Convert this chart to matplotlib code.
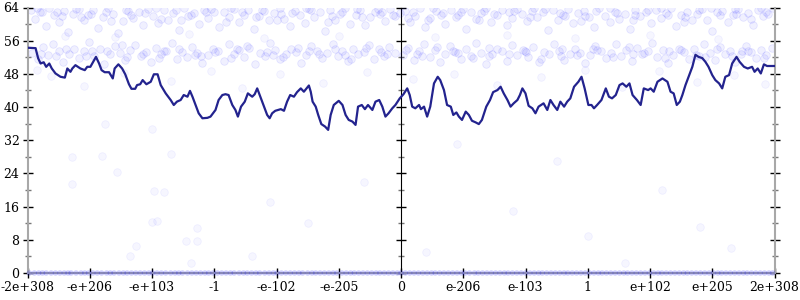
import matplotlib
matplotlib.use("Agg")
import matplotlib.pyplot as plt
from matplotlib.ticker import MultipleLocator, FixedLocator, NullFormatter

plt.rcParams['font.family'] = ['DejaVu Serif']

# x axis: tick positions in index units, labels as in the reference
TICK_POS = [-6, -5, -4, -3, -2, -1, 0, 1, 2, 3, 4, 5, 6]
TICK_LABELS = ["-2e+308", "-e+206", "-e+103", "-1", "-e-102", "-e-205", "0",
               "e-206", "e-103", "1", "e+102", "e+205", "2e+308"]

# smoothed curve
LINE_X = [-6.0, -5.87, -5.83, -5.79, -5.74, -5.70, -5.65, -5.61, -5.55, -5.47,
          -5.40, -5.36, -5.31, -5.28, -5.23, -5.15, -5.08, -5.04, -4.99, -4.93,
          -4.90, -4.85, -4.81, -4.76, -4.69, -4.63, -4.60, -4.54, -4.48, -4.43,
          -4.37, -4.33, -4.27, -4.24, -4.19, -4.15, -4.09, -4.02, -3.97, -3.91,
          -3.86, -3.78, -3.70, -3.65, -3.60, -3.54, -3.49, -3.43, -3.39, -3.35,
          -3.30, -3.25, -3.19, -3.11, -3.06, -2.98, -2.93, -2.87, -2.82, -2.77,
          -2.71, -2.66, -2.62, -2.57, -2.51, -2.46, -2.39, -2.35, -2.31, -2.27,
          -2.20, -2.15, -2.11, -2.07, -2.02, -1.93, -1.88, -1.83, -1.78, -1.72,
          -1.67, -1.61, -1.56, -1.48, -1.45, -1.42, -1.37, -1.33, -1.28, -1.22,
          -1.17, -1.13, -1.08, -1.00, -0.94, -0.89, -0.84, -0.78, -0.73, -0.69,
          -0.63, -0.58, -0.53, -0.46, -0.41, -0.35, -0.30, -0.25, -0.20, -0.14,
          -0.09, -0.02, 0.04, 0.10, 0.14, 0.18, 0.23, 0.29, 0.32, 0.37,
          0.42, 0.47, 0.53, 0.59, 0.63, 0.69, 0.74, 0.80, 0.84, 0.89,
          0.93, 0.98, 1.04, 1.09, 1.14, 1.20, 1.25, 1.30, 1.37, 1.43,
          1.48, 1.55, 1.60, 1.65, 1.71, 1.76, 1.81, 1.87, 1.91, 1.95,
          2.00, 2.05, 2.11, 2.16, 2.21, 2.29, 2.35, 2.40, 2.45, 2.51,
          2.56, 2.62, 2.67, 2.72, 2.78, 2.85, 2.90, 2.95, 3.01, 3.06,
          3.10, 3.15, 3.22, 3.29, 3.34, 3.39, 3.45, 3.51, 3.56, 3.62,
          3.67, 3.72, 3.79, 3.85, 3.90, 3.97, 4.01, 4.06, 4.12, 4.20,
          4.28, 4.33, 4.38, 4.43, 4.48, 4.52, 4.57, 4.62, 4.68, 4.73,
          4.78, 4.84, 4.89, 4.94, 5.00, 5.05, 5.11, 5.16, 5.21, 5.27,
          5.32, 5.39, 5.44, 5.51, 5.57, 5.64, 5.68, 5.73, 5.78, 5.83,
          5.88, 5.95, 6.0]
LINE_Y = [54.3, 54.2, 51.8, 50.5, 50.8, 49.7, 50.5, 49.3, 48.1, 47.3,
          47.1, 49.3, 48.5, 49.3, 50.1, 49.3, 48.9, 49.7, 49.7, 51.3,
          52.1, 50.5, 48.9, 48.4, 48.4, 46.9, 49.3, 50.3, 49.3, 47.9,
          45.5, 44.4, 44.4, 45.3, 45.5, 46.5, 45.5, 46.1, 47.9, 47.9,
          45.3, 43.3, 41.7, 40.5, 41.3, 41.7, 42.9, 42.5, 43.9, 42.5,
          40.5, 38.5, 37.3, 37.4, 37.7, 39.3, 41.7, 42.9, 43.1, 42.9,
          40.5, 39.3, 37.7, 40.1, 41.3, 43.3, 42.5, 43.1, 44.5, 42.9,
          40.1, 38.1, 37.3, 38.5, 39.1, 39.5, 39.1, 41.3, 42.9, 42.5,
          43.6, 44.5, 43.7, 45.2, 43.7, 41.3, 40.1, 38.1, 35.9, 35.3,
          34.5, 38.1, 40.5, 41.5, 40.5, 38.1, 36.9, 36.5, 35.7, 40.1,
          40.5, 39.5, 40.5, 39.3, 41.3, 41.7, 40.1, 37.7, 38.5, 39.7,
          40.5, 42.1, 43.1, 44.5, 42.9, 40.1, 39.7, 40.5, 39.5, 40.1,
          37.7, 40.1, 45.7, 47.3, 46.5, 44.1, 40.5, 40.1, 38.1, 38.7,
          37.7, 36.9, 38.9, 38.1, 36.7, 36.3, 35.9, 36.9, 40.1, 41.7,
          43.6, 44.1, 44.9, 43.3, 41.7, 40.1, 40.9, 41.7, 42.9, 44.5,
          43.3, 40.3, 39.7, 38.5, 40.1, 40.9, 39.3, 41.7, 40.5, 39.3,
          41.3, 40.1, 41.3, 42.1, 44.9, 46.1, 47.3, 44.5, 40.5, 40.5,
          39.7, 40.5, 41.7, 44.5, 42.5, 42.1, 42.9, 45.3, 45.7, 44.9,
          45.7, 42.9, 41.7, 40.5, 44.5, 44.1, 44.5, 43.7, 46.1, 46.9,
          46.1, 43.7, 43.3, 40.5, 41.3, 42.9, 45.3, 47.3, 49.7, 52.6,
          52.1, 51.8, 50.9, 49.7, 47.7, 46.5, 45.7, 44.5, 47.3, 47.7,
          50.5, 52.1, 50.9, 49.7, 49.3, 49.7, 48.5, 49.3, 48.1, 50.3,
          49.9, 49.9, 49.9]

# raw samples: upper cloud
UPPER_X = [-5.95, -5.88, -5.80, -5.71, -5.66, -5.58, -5.49, -5.41, -5.35, -5.27,
           -5.18, -5.10, -5.03, -4.94, -4.86, -4.79, -4.70, -4.62, -4.55, -4.47,
           -4.38, -4.30, -4.21, -4.15, -4.06, -3.98, -3.90, -3.81, -3.74, -3.66,
           -3.57, -3.49, -3.42, -3.33, -3.25, -3.17, -3.10, -3.01, -2.93, -2.85,
           -2.77, -2.69, -2.60, -2.52, -2.45, -2.36, -2.28, -2.20, -2.12, -2.04,
           -1.95, -1.88, -1.79, -1.71, -1.63, -1.55, -1.47, -1.39, -1.30, -1.22,
           -1.14, -1.06, -0.98, -0.90, -0.82, -0.73, -0.66, -0.58, -0.49, -0.41,
           -0.33, -0.25, -0.17, -0.09, -0.02, 0.07, 0.15, 0.23, 0.31, 0.39,
           0.47, 0.56, 0.64, 0.71, 0.80, 0.88, 0.96, 1.04, 1.13, 1.21,
           1.29, 1.37, 1.45, 1.54, 1.62, 1.70, 1.78, 1.86, 1.95, 2.03,
           2.11, 2.19, 2.28, 2.36, 2.44, 2.52, 2.61, 2.69, 2.77, 2.85,
           2.94, 3.02, 3.10, 3.18, 3.27, 3.35, 3.43, 3.51, 3.60, 3.68,
           3.76, 3.84, 3.93, 4.01, 4.09, 4.17, 4.26, 4.34, 4.42, 4.50,
           4.59, 4.67, 4.75, 4.83, 4.92, 5.00, 5.08, 5.16, 5.25, 5.33,
           5.41, 5.49, 5.58, 5.66, 5.74, 5.82, 5.90, 5.97,
           -5.84, -5.52, -5.14, -4.74, -4.33, -3.94, -3.53, -3.13, -2.73, -2.33,
           -1.92, -1.52, -1.11, -0.70, -0.30, 0.11, 0.52, 0.92, 1.33, 1.73,
           2.14, 2.55, 2.95, 3.36, 3.76, 4.17, 4.57, 4.98, 5.38, 5.78,
           -5.76, -5.45, -5.22, -4.98, -4.66, -4.42, -4.12, -3.86, -3.61, -3.37,
           -3.05, -2.81, -2.56, -2.24, -2.00, -1.75, -1.44, -1.18, -0.94, -0.62,
           -0.37, -0.13, 0.19, 0.43, 0.68, 0.99, 1.25, 1.49, 1.81, 2.07,
           2.32, 2.64, 2.89, 3.14, 3.47, 3.72, 3.97, 4.29, 4.54, 4.79,
           5.12, 5.36, 5.62, 5.86]
UPPER_Y = [63.5, 61.2, 62.8, 59.6, 63.8, 62.1, 60.4, 63.1, 58.2, 62.5,
           63.7, 60.9, 62.2, 63.4, 59.1, 61.8, 63.9, 62.4, 57.9, 60.7,
           63.2, 61.5, 62.9, 59.8, 63.6, 62.0, 60.2, 63.3, 61.0, 62.7,
           58.6, 63.8, 61.9, 62.6, 60.0, 63.4, 61.4, 62.8, 59.3, 63.0,
           61.7, 63.7, 60.6, 62.3, 63.5, 58.8, 62.0, 63.1, 60.9, 62.6,
           63.8, 61.3, 59.5, 63.2, 62.1, 60.3, 63.6, 61.8, 62.9, 58.4,
           63.3, 61.1, 62.5, 63.9, 60.1, 62.2, 63.4, 59.7, 61.6, 63.0,
           62.4, 60.8, 63.7, 61.9, 62.7, 63.2, 60.5, 62.0, 63.8, 59.2,
           61.4, 63.1, 62.3, 60.0, 63.5, 61.7, 62.8, 58.7, 63.0, 61.2,
           62.6, 63.9, 60.4, 62.1, 63.3, 59.9, 61.5, 63.6, 62.4, 60.7,
           63.1, 61.8, 62.9, 58.5, 63.4, 61.0, 62.2, 63.7, 60.2, 62.7,
           63.2, 61.6, 59.4, 63.8, 62.0, 60.6, 63.0, 61.3, 62.5, 58.9,
           63.5, 61.9, 62.8, 60.3, 63.3, 61.4, 62.6, 63.9, 59.6, 62.1,
           63.0, 60.9, 62.4, 63.6, 61.1, 58.3, 62.9, 63.2, 60.5, 62.2,
           63.7, 61.6, 62.7, 59.8, 63.4, 61.9, 62.5, 63.8,
           63.9, 62.9, 61.7, 63.0, 62.2, 63.8, 60.9, 62.9, 63.9, 61.6,
           62.4, 63.9, 62.0, 63.7, 62.9, 61.5, 63.9, 62.2, 63.1, 62.9,
           63.9, 62.6, 61.9, 63.9, 62.3, 63.8, 61.8, 63.9, 62.4, 63.9,
           63.0, 61.9, 63.6, 62.5, 60.8, 63.5, 62.7, 61.2, 63.4, 62.1,
           63.6, 60.4, 62.8, 63.3, 61.0, 62.6, 63.5, 60.6, 62.9, 61.8,
           63.6, 62.3, 63.0, 61.1, 62.7, 63.6, 60.9, 62.4, 63.2, 61.6,
           63.6, 62.0, 60.7, 63.1, 62.6, 61.0, 63.5, 62.2, 60.6, 63.3,
           62.1, 63.6, 61.3, 62.8]

# raw samples: middle cloud
MIDDLE_X = [-5.92, -5.83, -5.75, -5.67, -5.59, -5.50, -5.43, -5.34, -5.26, -5.18,
            -5.09, -5.01, -4.93, -4.84, -4.77, -4.68, -4.60, -4.51, -4.44, -4.35,
            -4.27, -4.18, -4.10, -4.02, -3.93, -3.85, -3.77, -3.68, -3.60, -3.52,
            -3.43, -3.35, -3.27, -3.19, -3.10, -3.02, -2.94, -2.85, -2.77, -2.69,
            -2.60, -2.52, -2.44, -2.35, -2.27, -2.19, -2.10, -2.02, -1.94, -1.85,
            -1.77, -1.69, -1.60, -1.52, -1.44, -1.35, -1.27, -1.19, -1.10, -1.02,
            -0.94, -0.85, -0.77, -0.69, -0.60, -0.52, -0.44, -0.35, -0.27, -0.19,
            -0.10, 0.04, 0.12, 0.21, 0.29, 0.37, 0.46, 0.54, 0.62, 0.71,
            0.79, 0.87, 0.96, 1.04, 1.12, 1.21, 1.29, 1.37, 1.46, 1.54,
            1.62, 1.71, 1.79, 1.87, 1.96, 2.04, 2.12, 2.21, 2.29, 2.37,
            2.46, 2.54, 2.62, 2.71, 2.79, 2.87, 2.96, 3.04, 3.12, 3.21,
            3.29, 3.37, 3.46, 3.54, 3.62, 3.71, 3.79, 3.87, 3.96, 4.04,
            4.12, 4.21, 4.29, 4.37, 4.46, 4.54, 4.62, 4.71, 4.79, 4.87,
            4.96, 5.04, 5.12, 5.21, 5.29, 5.37, 5.46, 5.54, 5.62, 5.71,
            5.79, 5.87, 5.96,
            -5.55, -4.97, -4.40, -3.80, -3.22, -2.64, -2.06, -1.48, -0.90, -0.32,
            0.25, 0.83, 1.41, 1.99, 2.57, 3.15, 3.73, 4.31, 4.89, 5.47,
            -5.79, -5.38, -5.06, -4.72, -4.48, -4.14, -3.89, -3.56, -3.31, -2.98,
            -2.73, -2.48, -2.15, -1.90, -1.65, -1.32, -1.06, -0.81, -0.56, -0.23,
            0.08, 0.33, 0.58, 0.91, 1.16, 1.42, 1.74, 2.00, 2.25, 2.58,
            2.83, 3.08, 3.41, 3.66, 3.91, 4.24, 4.49, 4.74, 5.07, 5.32,
            5.58, 5.83]
MIDDLE_Y = [53.1, 51.6, 54.4, 52.5, 55.2, 53.6, 50.8, 52.9, 54.1, 51.9,
            53.4, 55.6, 52.2, 53.9, 50.3, 52.7, 54.6, 53.0, 51.4, 53.7,
            55.0, 52.4, 53.2, 50.9, 54.2, 52.8, 53.6, 55.4, 51.7, 53.3,
            52.1, 54.5, 53.0, 50.6, 52.6, 54.0, 53.5, 51.2, 55.1, 52.9,
            53.8, 52.0, 54.3, 50.4, 53.1, 52.4, 55.5, 53.7, 51.5, 52.8,
            54.1, 53.2, 50.7, 52.5, 54.8, 53.4, 51.8, 53.0, 55.3, 52.2,
            53.6, 51.0, 54.0, 52.7, 53.3, 55.0, 51.6, 53.9, 52.3, 54.4,
            53.0, 52.6, 54.2, 51.3, 53.5, 55.2, 52.0, 53.7, 50.8, 52.9,
            54.6, 53.2, 51.7, 53.9, 52.4, 55.4, 53.1, 50.5, 52.8, 54.0,
            53.4, 51.1, 55.0, 52.6, 53.8, 52.1, 54.5, 50.9, 53.3, 52.7,
            55.3, 53.6, 51.4, 52.9, 54.1, 53.0, 50.6, 52.5, 54.7, 53.4,
            51.9, 53.1, 55.1, 52.3, 53.8, 51.2, 54.3, 52.8, 53.5, 55.5,
            52.0, 53.7, 50.7, 52.6, 54.0, 53.2, 51.6, 53.9, 52.4, 55.2,
            53.0, 51.3, 54.4, 52.7, 53.6, 50.8, 52.9, 54.8, 53.3, 51.8,
            53.8, 52.5, 54.2,
            52.2, 53.5, 52.0, 53.4, 52.3, 53.9, 52.6, 53.6, 52.5, 53.2,
            52.8, 53.6, 52.2, 53.5, 52.4, 53.7, 52.9, 53.5, 52.1, 53.4,
            52.8, 54.0, 52.4, 53.6, 55.0, 52.9, 51.8, 54.1, 52.6, 53.2,
            51.9, 54.6, 53.3, 52.1, 54.2, 52.8, 53.9, 51.7, 54.3, 52.9,
            53.8, 52.3, 54.5, 53.0, 51.9, 54.2, 52.7, 53.3, 51.6, 54.0,
            52.6, 53.9, 52.1, 54.4, 53.1, 51.8, 53.7, 52.5, 54.1, 52.4,
            53.6, 51.9]

# raw samples: scattered between the clouds and below
LOOSE_X = [-5.29, -4.80, -4.56, -5.29, -3.97, -3.81, -4.00, -3.92, -4.25, -4.35,
           -3.46, -3.27, -3.27, -3.38, -4.00, -4.75, -3.69, -1.50, -0.60, -2.40,
           0.40, 0.90, 1.80, 2.50, 3.00, 3.60, 4.20, 4.80, 5.30, -2.10,
           -5.62, -5.10, -4.45, -3.70, -3.05, -2.55, -1.95, -1.25, -0.55, 0.20,
           0.85, 1.55, 2.25, 2.95, 3.55, 4.15, 4.75, 5.35, 5.85, -5.85,
           -5.40, -4.60, -3.40, -2.20, -1.00, 0.55, 1.70, 2.80, 4.00, 5.10]
LOOSE_Y = [28.0, 28.2, 24.3, 21.4, 19.8, 19.6, 12.4, 12.6, 6.6, 4.0,
           7.6, 7.7, 10.8, 2.5, 34.6, 35.9, 28.6, 12.0, 22.0, 4.0,
           5.0, 31.0, 15.0, 27.0, 9.0, 2.5, 20.0, 11.0, 6.0, 17.0,
           47.5, 45.0, 48.2, 46.3, 48.8, 44.6, 47.9, 45.8, 48.5, 46.7,
           48.0, 45.3, 47.2, 49.0, 44.9, 48.6, 46.0, 47.7, 45.5, 48.9,
           57.2, 56.8, 57.5, 56.6, 57.1, 56.9, 57.4, 56.7, 57.3, 56.5]

# raw samples sitting at zero
ZERO_X = [-5.97, -5.89, -5.82, -5.76, -5.70, -5.62, -5.55, -5.48, -5.41, -5.35,
          -5.30, -5.22, -5.14, -5.08, -5.02, -4.95, -4.88, -4.81, -4.73, -4.67,
          -4.61, -4.53, -4.46, -4.40, -4.33, -4.26, -4.19, -4.12, -4.05, -3.99,
          -3.92, -3.85, -3.78, -3.70, -3.63, -3.57, -3.51, -3.43, -3.36, -3.29,
          -3.22, -3.15, -3.09, -3.02, -2.95, -2.88, -2.81, -2.74, -2.68, -2.60,
          -2.53, -2.47, -2.40, -2.33, -2.27, -2.19, -2.12, -2.05, -1.99, -1.92,
          -1.85, -1.78, -1.71, -1.64, -1.58, -1.50, -1.43, -1.37, -1.30, -1.23,
          -1.16, -1.09, -1.03, -0.95, -0.88, -0.81, -0.75, -0.68, -0.61, -0.54,
          -0.47, -0.40, -0.34, -0.27, -0.20, -0.13, -0.06, 0.00, 0.07, 0.14,
          0.21, 0.28, 0.35, 0.42, 0.49, 0.55, 0.62, 0.69, 0.76, 0.83,
          0.90, 0.97, 1.03, 1.10, 1.18, 1.24, 1.31, 1.38, 1.45, 1.52,
          1.59, 1.66, 1.72, 1.79, 1.86, 1.93, 2.00, 2.07, 2.14, 2.21,
          2.27, 2.34, 2.41, 2.48, 2.55, 2.62, 2.68, 2.75, 2.82, 2.89,
          2.96, 3.03, 3.10, 3.17, 3.23, 3.30, 3.37, 3.44, 3.51, 3.58,
          3.64, 3.71, 3.78, 3.85, 3.92, 3.99, 4.06, 4.13, 4.19, 4.26,
          4.33, 4.40, 4.47, 4.54, 4.60, 4.67, 4.74, 4.81, 4.88, 4.95,
          5.02, 5.09, 5.15, 5.22, 5.29, 5.36, 5.43, 5.50, 5.56, 5.63,
          5.70, 5.77, 5.84, 5.91, 5.97]

C_LINE = "#23238e"
C_AXIS = "#a8a8a8"


def main():
    fig = plt.figure(figsize=(8, 3), dpi=100)
    ax = fig.add_axes([27.5 / 800, 27 / 300, 747 / 800, 265.5 / 300])

    cloud = dict(s=30, facecolor=(0, 0, 1, 0.06), edgecolor=(0, 0, 1, 0.09),
                 linewidths=0.6, zorder=1)
    ax.scatter(UPPER_X, UPPER_Y, **cloud)
    ax.scatter(MIDDLE_X, MIDDLE_Y, **cloud)
    ax.scatter(LOOSE_X, LOOSE_Y, s=30, facecolor=(0, 0, 1, 0.035),
               edgecolor=(0, 0, 1, 0.05), linewidths=0.6, zorder=1)
    ax.scatter(ZERO_X, [0] * len(ZERO_X), s=16, facecolor=(0, 0, 1, 0.18),
               edgecolor='none', zorder=3, clip_on=False)

    ax.plot(LINE_X, LINE_Y, color=C_LINE, lw=1.6, zorder=4)

    ax.set_xlim(-6, 6)
    ax.set_ylim(0, 64)

    for side in ('left', 'right', 'bottom'):
        ax.spines[side].set_color(C_AXIS)
        ax.spines[side].set_linewidth(1.5)
    ax.spines['top'].set_visible(False)

    ax.xaxis.set_major_locator(FixedLocator(TICK_POS))
    ax.set_xticklabels(TICK_LABELS)
    ax.yaxis.set_major_locator(MultipleLocator(8))
    ax.yaxis.set_minor_locator(MultipleLocator(4))

    ax.tick_params(axis='both', which='major', direction='inout', length=7.5,
                   width=1, color='black', labelsize=9)
    ax.tick_params(axis='y', which='minor', direction='inout', length=4,
                   width=1, color='#777777', right=True)
    ax.tick_params(axis='y', which='major', right=True, pad=2)
    ax.tick_params(axis='x', which='major', pad=2)

    # middle axis at zero, ticks only
    mid = ax.secondary_yaxis(0.5)
    mid.spines['left'].set_color(C_AXIS)
    mid.spines['left'].set_linewidth(1.5)
    mid.yaxis.set_major_locator(MultipleLocator(8))
    mid.yaxis.set_minor_locator(MultipleLocator(4))
    mid.yaxis.set_major_formatter(NullFormatter())
    mid.tick_params(which='major', direction='inout', length=7.5, width=1,
                    color='black', labelleft=False, labelright=False)
    mid.tick_params(which='minor', direction='inout', length=4, width=1,
                    color='#777777')

    plt.savefig("out.png", dpi=100)


if __name__ == "__main__":
    main()
